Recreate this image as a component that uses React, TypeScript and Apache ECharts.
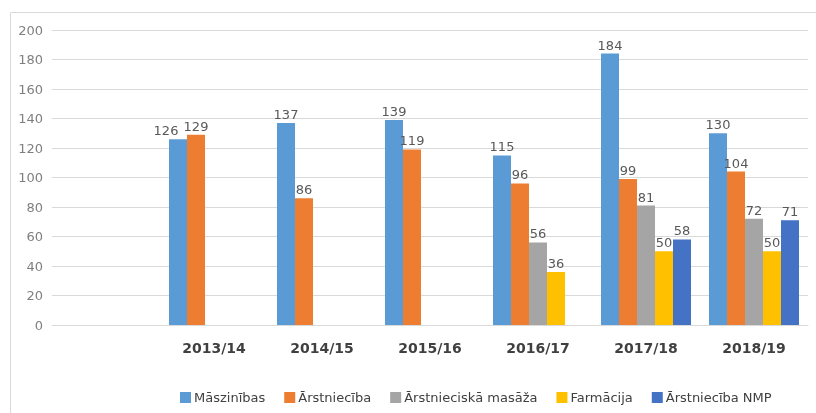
import React, { useEffect, useRef } from "react";
import * as echarts from "echarts";

const categories = ["", "2013/14", "2014/15", "2015/16", "2016/17", "2017/18", "2018/19"];
const seriesNames = ["Māszinības", "Ārstniecība", "Ārstnieciskā masāža", "Farmācija", "Ārstniecība NMP"];
const maszinibas = [null, 126, 137, 139, 115, 184, 130];
const arstnieciba = [null, 129, 86, 119, 96, 99, 104];
const masaza = [null, null, null, null, 56, 81, 72];
const farmacija = [null, null, null, null, 36, 50, 50];
const nmp = [null, null, null, null, null, 58, 71];
const yTicks = { min: 0, max: 200, interval: 20 };
const colors = ["#5B9BD5", "#ED7D31", "#A5A5A5", "#FFC000", "#4472C4"];

export default function App() {
  const ref = useRef<HTMLDivElement>(null);
  useEffect(() => {
    if (!ref.current) return;
    const chart = echarts.init(ref.current, undefined, { renderer: "svg" });
    const allData = [maszinibas, arstnieciba, masaza, farmacija, nmp];
    const series = allData.map((arr, si) => ({
      name: seriesNames[si],
      type: "bar" as const,
      barWidth: 18,
      barGap: "0%",
      itemStyle: { color: colors[si] },
      label: {
        show: true,
        position: "top" as const,
        distance: 2,
        color: "#595959",
        fontSize: 13,
        fontFamily: "DejaVu Sans",
      },
      data: arr.map((v, i) =>
        si === 0 && i === 1 && v != null ? { value: v, label: { offset: [-12, 0] } } : v
      ),
    }));
    chart.setOption({
      animation: false,
      color: colors,
      graphic: [
        {
          type: "rect",
          shape: { x: 10.5, y: 12.5, width: 830, height: 420 },
          style: { fill: "none", stroke: "#d9d9d9", lineWidth: 1 },
          silent: true,
        },
      ],
      grid: { left: 52, right: 8, top: 30, bottom: 88, containLabel: false },
      legend: {
        left: 175,
        top: 386,
        itemWidth: 11,
        itemHeight: 11,
        itemGap: 19,
        icon: "rect",
        textStyle: { color: "#404040", fontSize: 13, fontFamily: "DejaVu Sans", padding: [0, 0, 0, -2] },
        data: seriesNames,
      },
      xAxis: {
        type: "category",
        data: categories,
        axisLine: { lineStyle: { color: "#d9d9d9" } },
        axisTick: { show: false },
        axisLabel: {
          color: "#404040",
          fontSize: 14,
          fontWeight: "bold",
          fontFamily: "DejaVu Sans",
          margin: 16,
          interval: 0,
        },
      },
      yAxis: {
        type: "value",
        min: yTicks.min,
        max: yTicks.max,
        interval: yTicks.interval,
        axisLine: { show: false },
        axisTick: { show: false },
        splitLine: { lineStyle: { color: "#d9d9d9" } },
        axisLabel: { color: "#7f7f7f", fontSize: 13, fontFamily: "DejaVu Sans", margin: 9 },
      },
      series,
    });
    return () => chart.dispose();
  }, []);
  return <div ref={ref} style={{ position: "fixed", left: 0, top: 0, width: 816, height: 413 }} />;
}
